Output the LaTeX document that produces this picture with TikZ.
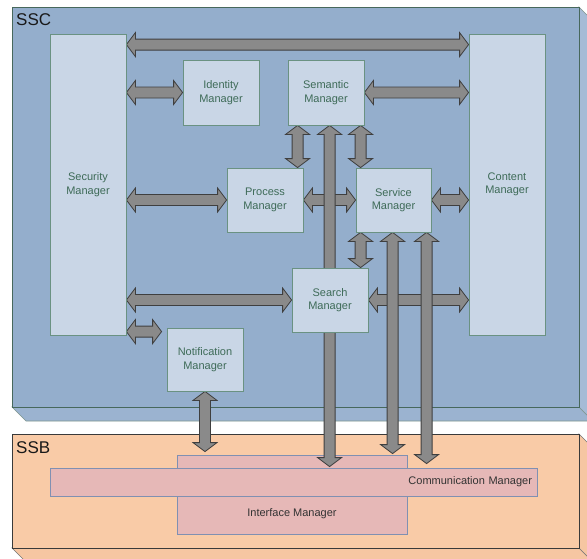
\documentclass[tikz,border=0pt]{standalone}
\usepackage{fontspec}
\setmainfont{Liberation Sans}
\usetikzlibrary{calc}

\definecolor{sscfront}{HTML}{94AECC}
\definecolor{sscbottom}{HTML}{9BB3D0}
\definecolor{sscside}{HTML}{A6BBD6}
\definecolor{sscline}{HTML}{47685C}
\definecolor{ssbfront}{HTML}{F9CBA7}
\definecolor{ssbside}{HTML}{F6C6A2}
\definecolor{ssbline}{HTML}{3A3A3A}
\definecolor{compfill}{HTML}{C9D6E6}
\definecolor{compline}{HTML}{6A9282}
\definecolor{comptext}{HTML}{3E6B58}
\definecolor{busfill}{HTML}{E6B8B7}
\definecolor{busline}{HTML}{8090B2}
\definecolor{arrfill}{HTML}{8A8A8A}
\definecolor{arrline}{HTML}{3F3F3F}

\pgfdeclarelayer{back}
\pgfdeclarelayer{links}
\pgfsetlayers{back,links,main}

% double-headed block arrow from #1 to #2 (#2 may refer to arrS)
\newcommand\blockarrow[2]{%
  \begin{pgfonlayer}{links}
    \coordinate (arrS) at (#1);
    \coordinate (arrE) at (#2);
    \coordinate (arrHA) at ($(arrS)!9pt!(arrE)$);
    \coordinate (arrHB) at ($(arrE)!9pt!(arrS)$);
    \draw[blockarr] (arrS)
      -- ($(arrHA)!12pt!90:(arrE)$) -- ($(arrHA)!5.5pt!90:(arrE)$)
      -- ($(arrHB)!5.5pt!-90:(arrS)$) -- ($(arrHB)!12pt!-90:(arrS)$)
      -- (arrE)
      -- ($(arrHB)!12pt!90:(arrS)$) -- ($(arrHB)!5.5pt!90:(arrS)$)
      -- ($(arrHA)!5.5pt!-90:(arrE)$) -- ($(arrHA)!12pt!-90:(arrE)$)
      -- cycle;
  \end{pgfonlayer}}

\tikzset{
  comp/.style={draw=compline, fill=compfill, text=comptext, line width=0.8pt,
    font=\fontsize{11}{13.5}\selectfont, align=center, inner sep=0pt},
  busbox/.style={draw=busline, fill=busfill, line width=0.8pt, inner sep=0pt},
  bustext/.style={text=black!80, font=\fontsize{11}{13.5}\selectfont, inner sep=0pt},
  blockarr/.style={fill=arrfill, draw=arrline, line width=0.8pt, line join=miter},
  layertitle/.style={anchor=west, inner sep=0pt, text=black!90, font=\fontsize{17}{20}\selectfont},
}

\begin{document}
\begin{tikzpicture}[x=1pt, y=-1pt]
  \useasboundingbox (0,0) rectangle (587,558);
  \clip (0,0) rectangle (587,558);

  \begin{pgfonlayer}{back}
    % SSC slab
    \fill[white] (0,0) rectangle (587,558);
    \draw[fill=sscbottom, draw=sscline!70, line width=0.6pt]
      (12,407) -- (26,421) -- (593,421) -- (579,407) -- cycle;
    \draw[fill=sscside, draw=sscline!70, line width=0.6pt]
      (579,7) -- (593,21) -- (593,421) -- (579,407) -- cycle;
    \draw[fill=sscfront, draw=sscline, line width=0.8pt] (12,7) rectangle (579,407);
    \node[layertitle] (ssc) at (16,20) {SSC};
    % SSB slab
    \draw[fill=ssbside, draw=ssbline!70, line width=0.6pt]
      (12,548) -- (26,562) -- (593,562) -- (579,548) -- cycle;
    \draw[fill=ssbside, draw=ssbline!70, line width=0.6pt]
      (579,434) -- (593,448) -- (593,562) -- (579,548) -- cycle;
    \draw[fill=ssbfront, draw=ssbline, line width=0.8pt] (12,434) rectangle (579,548);
    \node[layertitle] (ssb) at (16,448) {SSB};
    % SSB components
    \node[busbox, minimum width=230, minimum height=79] (ifm) at (292,494.5) {};
    \node[busbox, bustext, minimum width=487, minimum height=28, text width=477,
      inner xsep=5pt, align=right] (com) at (293.5,482) {Communication Manager};
    \node[bustext] (ifmtext) at ($(ifm.south)+(0,-21)$) {Interface Manager};
  \end{pgfonlayer}

  % SSC components
  \node[comp, minimum width=76, minimum height=301] (sec) at (88,184.5) {Security\\Manager};
  \node[comp, minimum width=76, minimum height=301] (con) at (507,184.5) {Content\\Manager};
  \node[comp, minimum width=76, minimum height=65] (idm) at (221,92.5) {Identity\\Manager};
  \node[comp, minimum width=76, minimum height=65] (sem) at (326,92.5) {Semantic\\Manager};
  \node[comp, minimum width=76, minimum height=64] (pro) at (265,200) {Process\\Manager};
  \node[comp, minimum width=75, minimum height=64] (svc) at (393.5,200) {Service\\Manager};
  \node[comp, minimum width=76, minimum height=64] (sea) at (330,300) {Search\\Manager};
  \node[comp, minimum width=76, minimum height=63] (ntf) at (205,359.5) {Notification\\Manager};

  % horizontal links
  \blockarrow{[yshift=-11pt]sec.north east}{arrS -| con.west}
  \blockarrow{sec.east |- idm}{idm.west}
  \blockarrow{sem.east}{arrS -| con.west}
  \blockarrow{sec.east |- pro}{pro.west}
  \blockarrow{pro.east}{arrS -| svc.west}
  \blockarrow{svc.east}{arrS -| con.west}
  \blockarrow{sec.east |- sea}{sea.west}
  \blockarrow{sea.east}{arrS -| con.west}
  \coordinate (ntfgap) at ([xshift=-5pt, yshift=-4pt]ntf.north west);
  \blockarrow{sec.east |- ntfgap}{ntfgap}

  % vertical links
  \blockarrow{[xshift=10pt]sem.south west}{arrS |- pro.north}
  \blockarrow{[xshift=5pt]svc.north west |- sem.south}{[xshift=5pt]svc.north west}
  \blockarrow{[xshift=5pt]svc.south west}{arrS |- sea.north}
  \blockarrow{ntf.south}{[yshift=3pt]arrS |- ifm.north}
  \blockarrow{[xshift=42pt]sem.south west}{[yshift=1pt]arrS |- com.north}
  \blockarrow{[xshift=37pt]svc.south west}{[yshift=1pt]arrS |- ifm.north}
  \blockarrow{[xshift=71pt]svc.south west}{[yshift=4pt]arrS |- com.north}
\end{tikzpicture}
\end{document}
